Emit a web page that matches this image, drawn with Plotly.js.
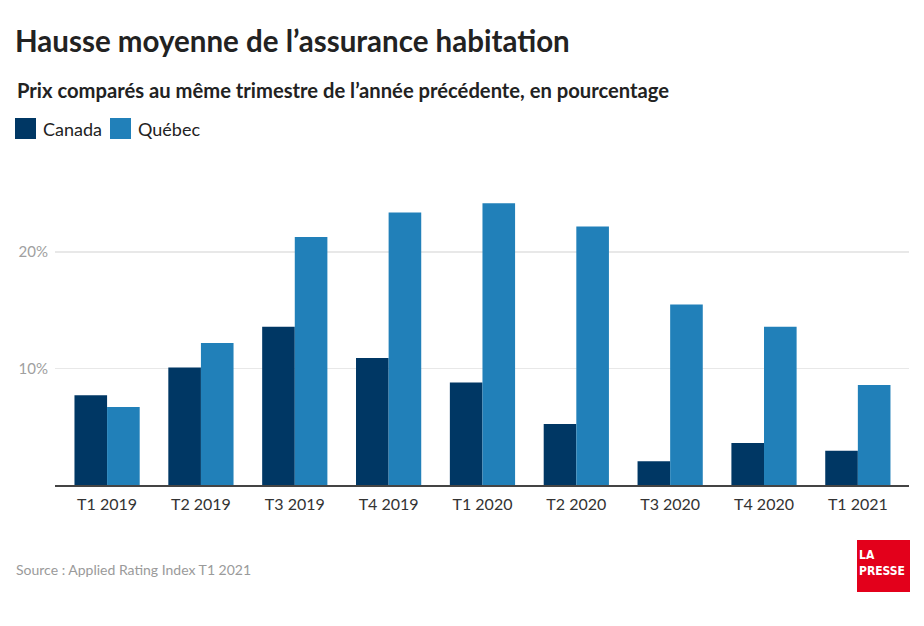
<!DOCTYPE html>
<html>
<head>
<meta charset="utf-8">
<script src="https://cdn.plot.ly/plotly-3.0.1.min.js"></script>
<style>
  html, body { margin: 0; padding: 0; background: #fff; }
  #chart { width: 924px; height: 626px; }
</style>
</head>
<body>
<div id="chart"></div>
<script>
const categories = ['T1 2019', 'T2 2019', 'T3 2019', 'T4 2019', 'T1 2020', 'T2 2020', 'T3 2020', 'T4 2020', 'T1 2021'];
const canadaValues = [7.7, 10.1, 13.6, 10.9, 8.8, 5.25, 2.05, 3.6, 2.95];
const quebecValues = [6.7, 12.2, 21.3, 23.4, 24.2, 22.2, 15.5, 13.6, 8.6];
const seriesNames = ['Canada', 'Québec'];
const yTickValues = [10, 20];
const yTickLabels = ['10%', '20%'];
const titleText = 'Hausse moyenne de l’assurance habitation';
const subtitleText = 'Prix comparés au même trimestre de l’année précédente, en pourcentage';
const sourceText = 'Source : Applied Rating Index T1 2021';
const logoLines = ['LA', 'PRESSE'];

const COLORS = ['#003764', '#2180b9'];
const FONT = 'Lato, "Open Sans", sans-serif';
const LOGO_FONT = '"DejaVu Sans Condensed", sans-serif';

const W = 924, H = 626;
const M = { l: 55, r: 15, t: 194, b: 141 };
const PW = W - M.l - M.r, PH = H - M.t - M.b;
const px = x => (x - M.l) / PW;
const py = y => (H - M.b - y) / PH;

const traces = [canadaValues, quebecValues].map((vals, i) => ({
  type: 'bar',
  name: seriesNames[i],
  x: categories,
  y: vals,
  marker: { color: COLORS[i], line: { width: 0 } },
  hoverinfo: 'x+y+name',
  showlegend: false
}));

const shapes = [];
const annotations = [];

// subtitle
annotations.push({
  xref: 'paper', yref: 'paper', x: px(15), y: py(90), xanchor: 'left', yanchor: 'middle',
  text: '<b>' + subtitleText + '</b>', showarrow: false,
  font: { family: FONT, size: 20.2, color: '#222' }
});

// legend
const legendX = [15, 110];
seriesNames.forEach((n, i) => {
  shapes.push({
    type: 'rect', xref: 'paper', yref: 'paper',
    x0: px(legendX[i]), x1: px(legendX[i] + 21), y0: py(139), y1: py(118),
    fillcolor: COLORS[i], line: { width: 0 }
  });
  annotations.push({
    xref: 'paper', yref: 'paper', x: px(legendX[i] + 26), y: py(129), xanchor: 'left', yanchor: 'middle',
    text: n, showarrow: false, font: { family: FONT, size: 18, color: '#222' }
  });
});

// source
annotations.push({
  xref: 'paper', yref: 'paper', x: px(14), y: py(569), xanchor: 'left', yanchor: 'middle',
  text: sourceText, showarrow: false, font: { family: FONT, size: 14, color: '#9a9a9a' }
});

// logo
shapes.push({
  type: 'rect', xref: 'paper', yref: 'paper',
  x0: px(857), x1: px(910), y0: py(592), y1: py(540),
  fillcolor: '#e3001b', line: { width: 0 }
});
annotations.push({
  xref: 'paper', yref: 'paper', x: px(857), y: py(563), xanchor: 'left', yanchor: 'middle',
  text: '<b>' + logoLines.join('<br>') + '</b>', align: 'left', showarrow: false,
  font: { family: LOGO_FONT, size: 12, color: '#fff' }
});

const layout = {
  width: W, height: H,
  margin: M,
  paper_bgcolor: '#fff', plot_bgcolor: '#fff',
  font: { family: FONT },
  title: {
    text: '<b>' + titleText + '</b>',
    xref: 'container', yref: 'container',
    x: 15 / W, xanchor: 'left', y: 1 - 42 / H, yanchor: 'middle',
    font: { family: FONT, size: 29.5, color: '#222' }
  },
  barmode: 'group',
  bargap: 0.305,
  bargroupgap: 0,
  xaxis: {
    type: 'category',
    range: [-0.555, 8.545],
    showgrid: false, zeroline: false,
    showline: true, linecolor: '#444', linewidth: 1.5,
    ticks: '', ticklabelstandoff: 4,
    tickfont: { family: FONT, size: 16, color: '#333' },
    fixedrange: true
  },
  yaxis: {
    range: [0, 25],
    tickvals: yTickValues, ticktext: yTickLabels,
    showgrid: true, gridcolor: '#e8e8e8', gridwidth: 1.5,
    zeroline: false, showline: false, ticks: '',
    ticklabelstandoff: 6,
    tickfont: { family: FONT, size: 15, color: '#a0a0a0' },
    fixedrange: true
  },
  shapes: shapes,
  annotations: annotations
};

Plotly.newPlot('chart', traces, layout, { displayModeBar: false, staticPlot: true });
</script>
</body>
</html>
